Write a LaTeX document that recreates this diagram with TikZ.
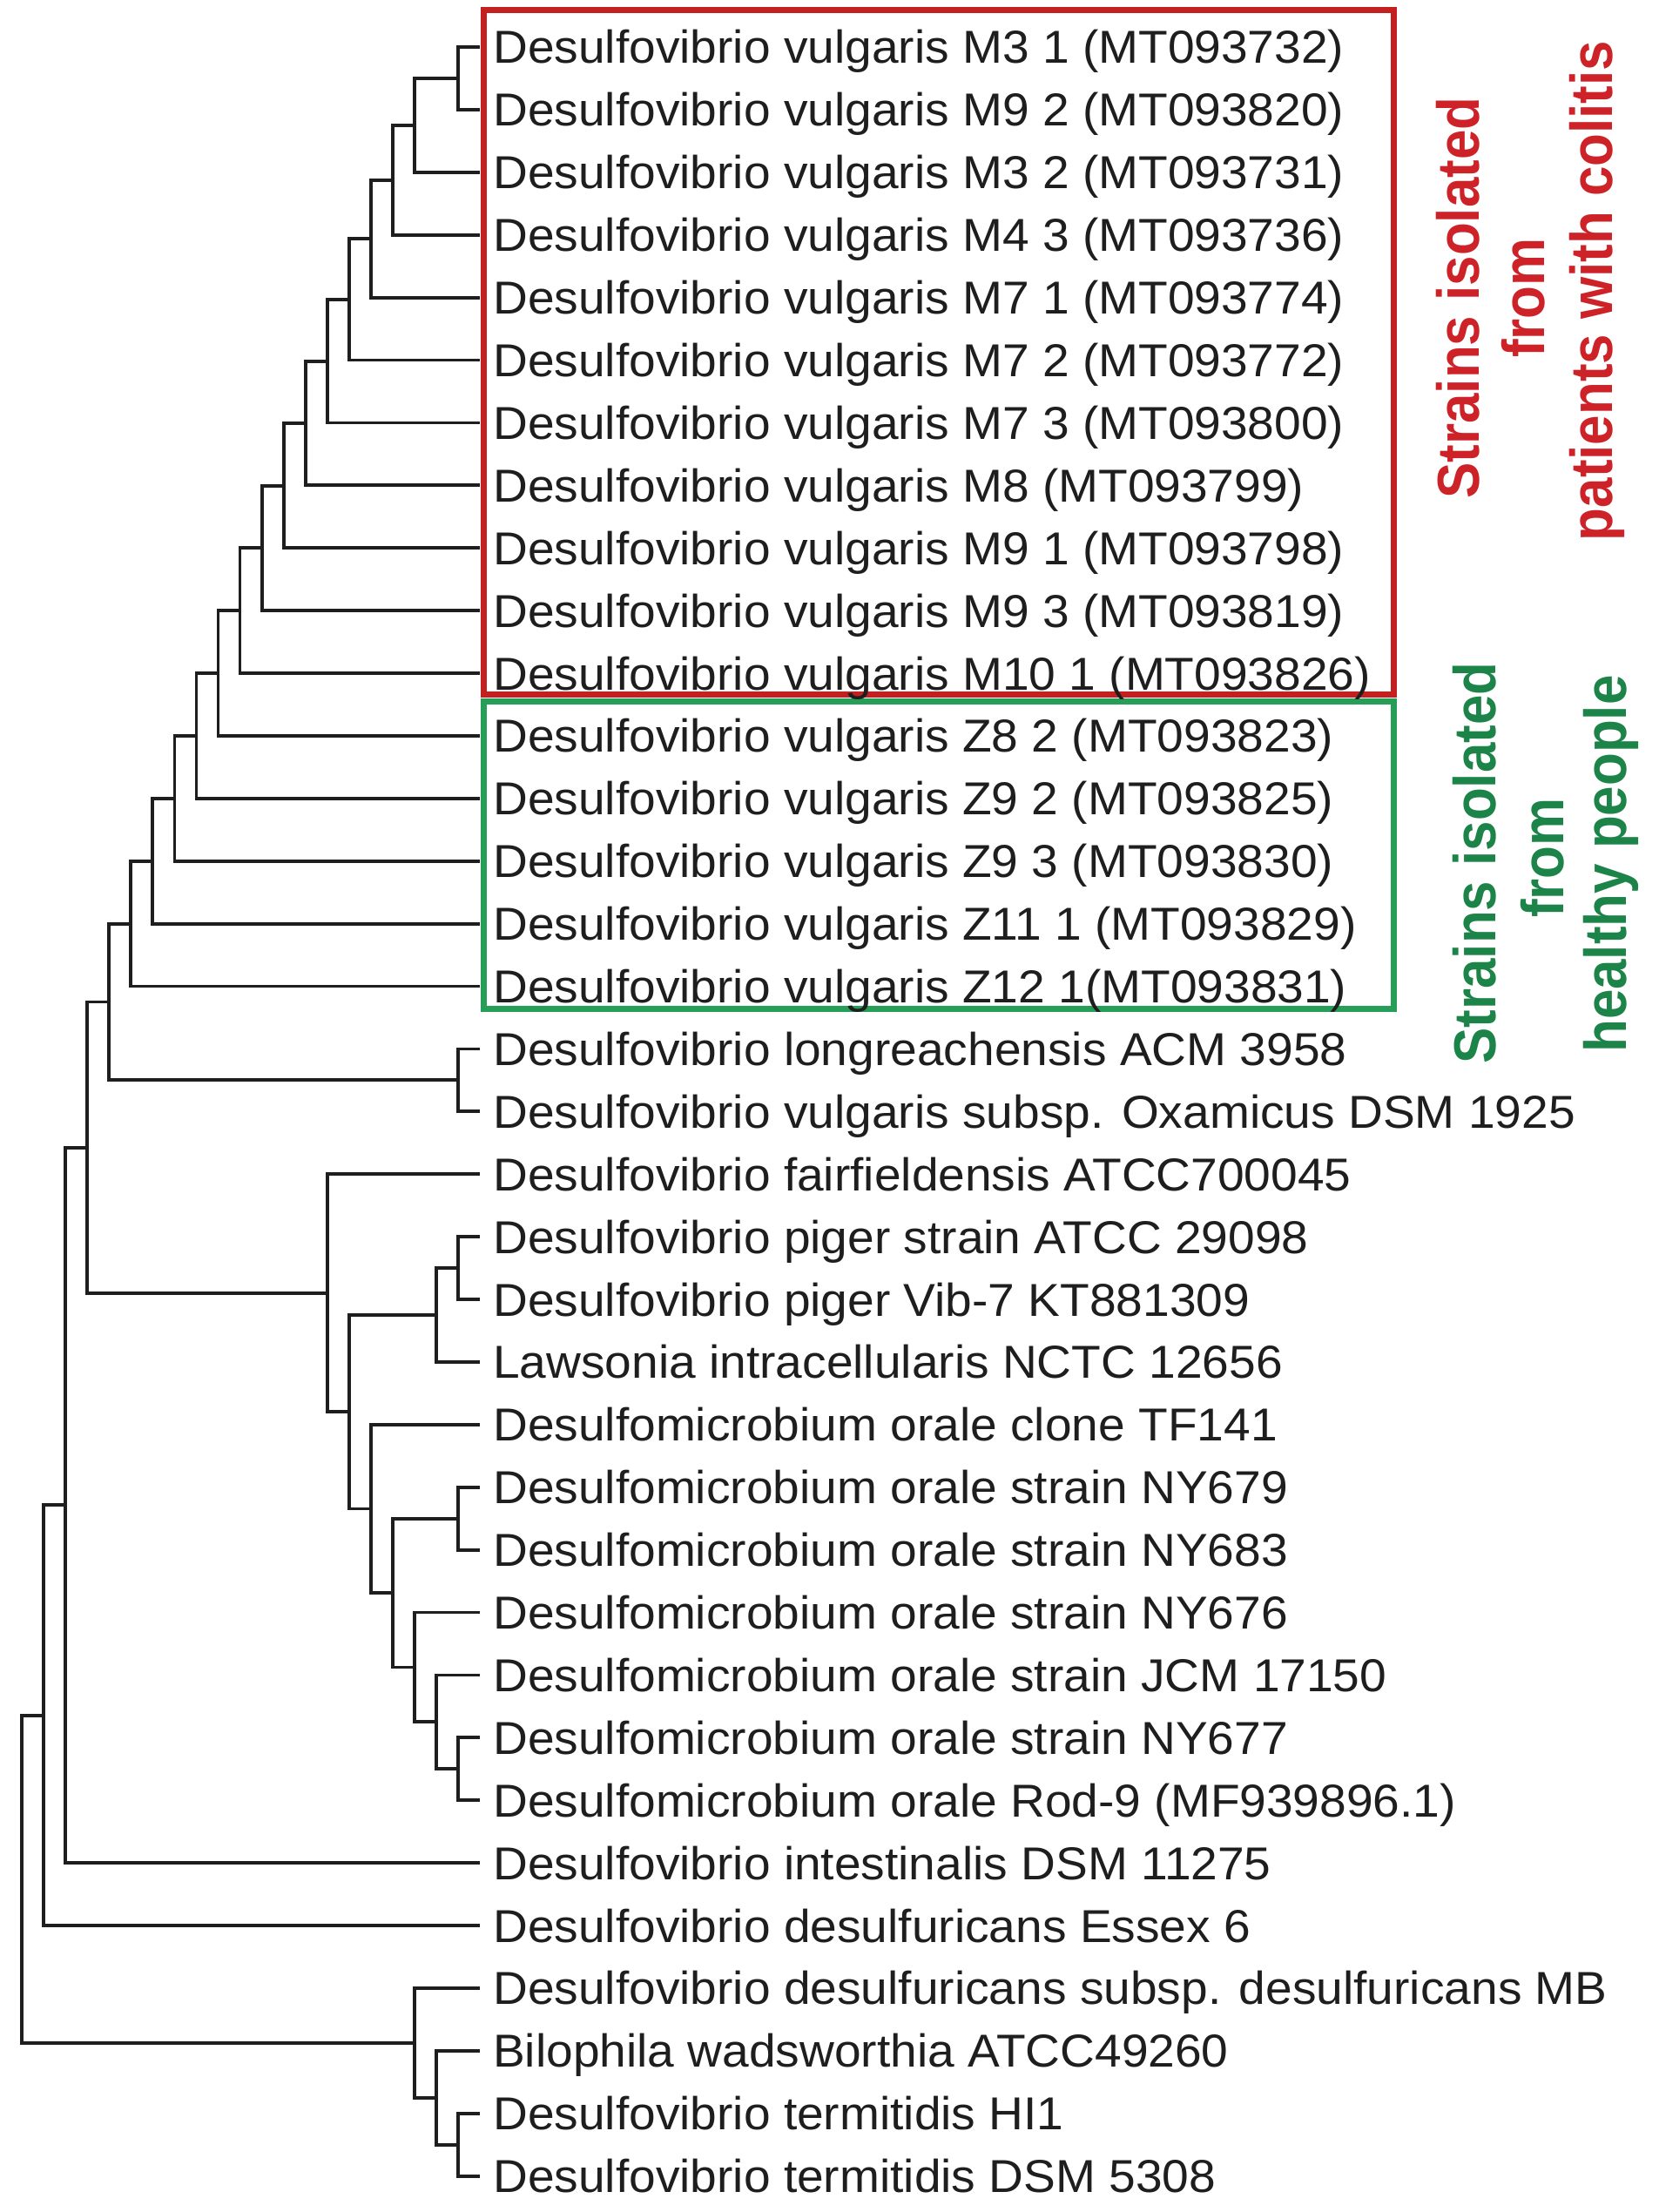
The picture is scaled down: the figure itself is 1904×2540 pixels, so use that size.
\documentclass[tikz,border=0pt]{standalone}
\usepackage{fontspec}
\usetikzlibrary{calc}
\newfontfamily\leaffont{Liberation Sans}[FakeStretch=1.04]
\newfontfamily\labfont{Liberation Sans}[FakeStretch=0.91]
\definecolor{boxred}{RGB}{196,32,32}
\definecolor{boxgreen}{RGB}{38,158,88}
\definecolor{txtred}{RGB}{204,34,40}
\definecolor{txtgreen}{RGB}{28,132,72}
\definecolor{ink}{RGB}{30,30,30}
\begin{document}
\begin{tikzpicture}[x=1pt,y=-1pt,
  leaf/.style={anchor=base west, inner sep=0pt, text=ink, font=\leaffont\fontsize{53}{56}\selectfont},
  branch/.style={draw=ink, line width=3.8pt, line join=miter},
  lab/.style={anchor=base, rotate=90, inner sep=0pt, font=\labfont\bfseries\fontsize{68}{72}\selectfont},
  groupbox/.style={line width=7pt}]
\useasboundingbox[fill=white] (0,0) rectangle (1904,2540);
% boxes
\draw[groupbox, boxgreen] (555,805) rectangle (1600,1158);
\draw[groupbox, boxred] (555,12) rectangle (1600,797);
% leaves
\node[leaf] (n0) at (566,73.0) {Desulfovibrio vulgaris M3 1 (MT093732)};
\node[leaf] (n1) at (566,144.9) {Desulfovibrio vulgaris M9 2 (MT093820)};
\node[leaf] (n2) at (566,216.8) {Desulfovibrio vulgaris M3 2 (MT093731)};
\node[leaf] (n3) at (566,288.7) {Desulfovibrio vulgaris M4 3 (MT093736)};
\node[leaf] (n4) at (566,360.6) {Desulfovibrio vulgaris M7 1 (MT093774)};
\node[leaf] (n5) at (566,432.5) {Desulfovibrio vulgaris M7 2 (MT093772)};
\node[leaf] (n6) at (566,504.4) {Desulfovibrio vulgaris M7 3 (MT093800)};
\node[leaf] (n7) at (566,576.3) {Desulfovibrio vulgaris M8 (MT093799)};
\node[leaf] (n8) at (566,648.2) {Desulfovibrio vulgaris M9 1 (MT093798)};
\node[leaf] (n9) at (566,720.1) {Desulfovibrio vulgaris M9 3 (MT093819)};
\node[leaf] (n10) at (566,792.0) {Desulfovibrio vulgaris M10 1 (MT093826)};
\node[leaf] (n11) at (566,863.9) {Desulfovibrio vulgaris Z8 2 (MT093823)};
\node[leaf] (n12) at (566,935.8) {Desulfovibrio vulgaris Z9 2 (MT093825)};
\node[leaf] (n13) at (566,1007.7) {Desulfovibrio vulgaris Z9 3 (MT093830)};
\node[leaf] (n14) at (566,1079.6) {Desulfovibrio vulgaris Z11 1 (MT093829)};
\node[leaf] (n15) at (566,1151.5) {Desulfovibrio vulgaris Z12 1(MT093831)};
\node[leaf] (n16) at (566,1223.4) {Desulfovibrio longreachensis ACM 3958};
\node[leaf] (n17) at (566,1295.3) {Desulfovibrio vulgaris subsp. Oxamicus DSM 1925};
\node[leaf] (n18) at (566,1367.2) {Desulfovibrio fairfieldensis ATCC700045};
\node[leaf] (n19) at (566,1439.1) {Desulfovibrio piger strain ATCC 29098};
\node[leaf] (n20) at (566,1511.0) {Desulfovibrio piger Vib-7 KT881309};
\node[leaf] (n21) at (566,1582.9) {Lawsonia intracellularis NCTC 12656};
\node[leaf] (n22) at (566,1654.8) {Desulfomicrobium orale clone TF141};
\node[leaf] (n23) at (566,1726.7) {Desulfomicrobium orale strain NY679};
\node[leaf] (n24) at (566,1798.6) {Desulfomicrobium orale strain NY683};
\node[leaf] (n25) at (566,1870.5) {Desulfomicrobium orale strain NY676};
\node[leaf] (n26) at (566,1942.4) {Desulfomicrobium orale strain JCM 17150};
\node[leaf] (n27) at (566,2014.3) {Desulfomicrobium orale strain NY677};
\node[leaf] (n28) at (566,2086.2) {Desulfomicrobium orale Rod-9 (MF939896.1)};
\node[leaf] (n29) at (566,2158.1) {Desulfovibrio intestinalis DSM 11275};
\node[leaf] (n30) at (566,2230.0) {Desulfovibrio desulfuricans Essex 6};
\node[leaf] (n31) at (566,2301.9) {Desulfovibrio desulfuricans subsp. desulfuricans MB};
\node[leaf] (n32) at (566,2373.8) {Bilophila wadsworthia ATCC49260};
\node[leaf] (n33) at (566,2445.7) {Desulfovibrio termitidis HI1};
\node[leaf] (n34) at (566,2517.6) {Desulfovibrio termitidis DSM 5308};
\foreach \i in {0,...,34} \coordinate (t\i) at ($(n\i.base west)+(-15,-19)$);
% internal nodes
\coordinate (cA) at (526,89.95);
\coordinate (cB) at (475.9,143.9);
\coordinate (cC) at (450.9,206.8);
\coordinate (cD) at (425.8,274.2);
\coordinate (cE) at (400.8,343.85);
\coordinate (cF) at (375.7,414.6);
\coordinate (cG) at (350.7,485.95);
\coordinate (cH) at (325.6,557.6);
\coordinate (cI) at (300.6,629.35);
\coordinate (cJ) at (275.5,701.2);
\coordinate (cK) at (250.5,773.05);
\coordinate (cL) at (225.4,844.9);
\coordinate (cM) at (200.4,916.8);
\coordinate (cN) at (175.3,988.7);
\coordinate (cO) at (150.3,1060.6);
\coordinate (cQ) at (526,1240.35);
\coordinate (cP) at (125.2,1150.5);
\coordinate (cZ) at (526,1456.05);
\coordinate (cY) at (501,1510);
\coordinate (cAC) at (526,1743.65);
\coordinate (cAF) at (526,2031.25);
\coordinate (cAE) at (501,1977.3);
\coordinate (cAD) at (475.9,1914.4);
\coordinate (cAB) at (450.9,1829.0);
\coordinate (cAA) at (425.8,1732.4);
\coordinate (cX) at (400.8,1621.2);
\coordinate (cS) at (375.7,1484.7);
\coordinate (cR) at (100.2,1317.6);
\coordinate (cT) at (75.1,1728.35);
\coordinate (cU) at (50,1969.7);
\coordinate (cAH) at (526,2462.65);
\coordinate (cAG) at (501,2408.7);
\coordinate (cW) at (475.9,2345.8);
\coordinate (cV) at (25,2157.75);
% branches
\draw[branch] (t0) -| (cA) |- (t1);
\draw[branch] (cA) -| (cB) |- (t2);
\draw[branch] (cB) -| (cC) |- (t3);
\draw[branch] (cC) -| (cD) |- (t4);
\draw[branch] (cD) -| (cE) |- (t5);
\draw[branch] (cE) -| (cF) |- (t6);
\draw[branch] (cF) -| (cG) |- (t7);
\draw[branch] (cG) -| (cH) |- (t8);
\draw[branch] (cH) -| (cI) |- (t9);
\draw[branch] (cI) -| (cJ) |- (t10);
\draw[branch] (cJ) -| (cK) |- (t11);
\draw[branch] (cK) -| (cL) |- (t12);
\draw[branch] (cL) -| (cM) |- (t13);
\draw[branch] (cM) -| (cN) |- (t14);
\draw[branch] (cN) -| (cO) |- (t15);
\draw[branch] (t16) -| (cQ) |- (t17);
\draw[branch] (cO) -| (cP) |- (cQ);
\draw[branch] (t19) -| (cZ) |- (t20);
\draw[branch] (cZ) -| (cY) |- (t21);
\draw[branch] (t23) -| (cAC) |- (t24);
\draw[branch] (t27) -| (cAF) |- (t28);
\draw[branch] (t26) -| (cAE) |- (cAF);
\draw[branch] (t25) -| (cAD) |- (cAE);
\draw[branch] (cAC) -| (cAB) |- (cAD);
\draw[branch] (t22) -| (cAA) |- (cAB);
\draw[branch] (cY) -| (cX) |- (cAA);
\draw[branch] (t18) -| (cS) |- (cX);
\draw[branch] (cP) -| (cR) |- (cS);
\draw[branch] (cR) -| (cT) |- (t29);
\draw[branch] (cT) -| (cU) |- (t30);
\draw[branch] (t33) -| (cAH) |- (t34);
\draw[branch] (t32) -| (cAG) |- (cAH);
\draw[branch] (t31) -| (cW) |- (cAG);
\draw[branch] (cU) -| (cV) |- (cW);
% group labels
\node[lab, text=txtred] (r1) at (1698,342) {Strains isolated};
\node[lab, text=txtred] (r2) at (1773,342) {from};
\node[lab, text=txtred] (r3) at (1851,334) {patients with colitis};
\node[lab, text=txtgreen] (g1) at (1717,991) {Strains isolated};
\node[lab, text=txtgreen] (g2) at (1795,985) {from};
\node[lab, text=txtgreen] (g3) at (1867,992) {healthy people};
\end{tikzpicture}
\end{document}
